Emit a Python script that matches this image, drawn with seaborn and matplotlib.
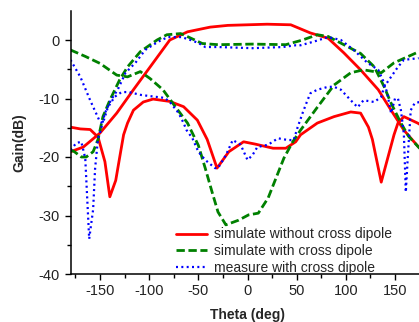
import numpy as np
import pandas as pd
import seaborn as sns
import matplotlib
matplotlib.use('Agg')
import matplotlib.pyplot as plt

# values (theta in deg, gain in dB)
red_hi_theta = [-180, -167, -150, -133, -116, -99, -79, -61, -38, -20, 0, 20, 44, 64, 82, 98, 115, 133, 146, 159, 174, 180]
red_hi_gain = [-19.1, -18.3, -15.9, -12.5, -8.5, -4.6, 0.0, 1.4, 2.2, 2.5, 2.6, 2.7, 2.6, 1.2, 0.3, -2.2, -5.1, -8.5, -12.0, -15.4, -18.3, -19.1]

red_lo_theta = [-180, -170, -160, -152, -145, -140, -134, -129, -126, -122, -116, -106, -96, -79, -65, -51, -41, -31, -19, -4, 8, 26, 39, 49, 54, 71, 88, 105, 115, 123, 127, 136, 149, 153, 159, 173, 180]
red_lo_gain = [-14.9, -15.2, -15.3, -16.6, -20.8, -26.8, -24.0, -19.1, -16.2, -14.2, -12.0, -10.6, -10.1, -10.5, -11.4, -13.7, -17.0, -21.9, -19.1, -17.4, -17.8, -18.5, -18.5, -17.4, -16.2, -14.2, -13.1, -12.3, -12.5, -14.9, -17.0, -24.3, -16.2, -14.2, -13.1, -14.2, -14.9]

green_a_theta = [-180, -165, -150, -133, -122, -109, -99, -86, -76, -61, -50, -43, -36, -30, -22, -9, 1, 11, 21, 29, 37, 46, 54, 71, 88, 105, 118, 136, 149, 173, 180]
green_a_gain = [-1.7, -2.8, -4.0, -6.0, -6.3, -5.4, -6.6, -8.5, -10.8, -14.2, -18.0, -21.9, -26.0, -29.4, -31.6, -30.8, -29.9, -29.6, -27.0, -23.6, -20.2, -17.4, -15.4, -11.5, -7.7, -5.6, -5.1, -5.6, -3.9, -2.1, -1.7]

green_b_theta = [-180, -176, -169, -164, -157, -152, -147, -140, -130, -122, -109, -92, -82, -68, -60, -46, -30, 5, 39, 56, 71, 82, 98, 115, 129, 139, 146, 156, 164, 175, 180]
green_b_gain = [-18.8, -19.1, -20.0, -20.0, -19.1, -17.0, -13.1, -10.3, -6.8, -4.6, -2.0, 0.0, 0.9, 1.1, 0.5, -0.6, -0.8, -0.7, -0.8, 0.0, 0.9, 0.6, -0.8, -2.3, -4.6, -8.0, -10.8, -14.2, -16.5, -18.5, -18.8]

blue_a_theta = [-180, -170, -160, -150, -147, -142, -135, -128, -121, -108, -94, -84, -78, -70, -65, -62, -56, -50, -43, -33, -30, -22, -15, -7, 0, 5, 10, 21, 31, 41, 47, 51, 56, 61, 64, 71, 82, 88, 95, 105, 112, 118, 129, 136, 139, 146, 153, 159, 174]
blue_a_gain = [-3.4, -6.3, -10.3, -14.0, -14.2, -11.5, -9.7, -8.9, -8.9, -9.4, -9.7, -9.9, -10.8, -12.5, -14.2, -15.4, -16.8, -19.1, -20.5, -21.9, -21.9, -19.7, -17.1, -17.9, -20.5, -19.7, -18.3, -17.9, -16.8, -17.1, -17.1, -14.9, -12.5, -10.3, -9.1, -8.5, -8.0, -8.0, -8.5, -10.3, -11.5, -10.3, -10.6, -9.7, -8.0, -6.3, -4.6, -3.4, -3.1]

blue_b_theta = [-180, -174, -169, -165, -161, -157, -155, -152, -150, -145, -139, -132, -124, -114, -104, -91, -81, -67, -58, -50, -43, -30, 5, 36, 49, 54, 67, 82, 95, 108, 122, 133, 138, 142, 146, 150, 153, 156, 159, 161, 163, 166, 170, 175]
blue_b_gain = [-18.8, -17.6, -17.4, -20.2, -34.0, -29.0, -22.0, -16.8, -15.9, -12.5, -10.3, -8.5, -5.6, -3.9, -1.7, -0.3, 0.5, 0.5, 0.0, -0.5, -1.2, -1.2, -1.4, -1.2, -0.9, -0.9, -0.3, 0.5, 0.0, -1.7, -3.9, -5.1, -7.0, -9.0, -12.5, -10.0, -10.0, -12.0, -16.0, -26.0, -20.0, -12.0, -10.8, -10.6]

labels = ['simulate without cross dipole', 'simulate with cross dipole', 'measure with cross dipole']

sns.set_style('ticks')
plt.rcParams['font.family'] = ['Liberation Sans', 'DejaVu Sans']
plt.rcParams['axes.unicode_minus'] = False

fig = plt.figure(figsize=(4.19, 3.22), dpi=100)
ax = fig.add_axes([70.5 / 419, 1 - 274 / 322, (424.5 - 70.5) / 419, (274 - 10.75) / 322])

red = '#ff0000'
green = '#008000'
blue = '#0000ff'

def draw(theta, gain, color, ls, lw, label=None):
    df = pd.DataFrame({'theta': theta, 'gain': gain})
    sns.lineplot(data=df, x='theta', y='gain', ax=ax, color=color, linewidth=lw,
                 linestyle=ls, sort=False, label=label, legend=False)

draw(red_hi_theta, red_hi_gain, red, '-', 2.0, labels[0])
draw(red_lo_theta, red_lo_gain, red, '-', 2.0)
draw(green_a_theta, green_a_gain, green, (0, (3, 1.3)), 2.0, labels[1])
draw(green_b_theta, green_b_gain, green, (0, (3, 1.3)), 2.0)
draw(blue_a_theta, blue_a_gain, blue, (0, (0.9, 1.5)), 1.6, labels[2])
draw(blue_b_theta, blue_b_gain, blue, (0, (0.9, 1.5)), 1.6)

ax.set_xlim(-180, 180)
ax.set_ylim(-40, 5)
ax.set_xticks([-150, -100, -50, 0, 50, 100, 150])
ax.set_xticks(np.arange(-175, 180, 50), minor=True)
ax.set_yticks([-40, -30, -20, -10, 0])
ax.set_yticks([-35, -25, -15, -5], minor=True)
ax.tick_params(which='major', length=4, width=1, labelsize=10.5, color='black', labelcolor='#222222')
ax.tick_params(which='minor', length=3, width=1, color='black')
ax.spines['right'].set_visible(False)
ax.spines['top'].set_visible(False)
for s in ['left', 'bottom']:
    ax.spines[s].set_linewidth(1.1)
    ax.spines[s].set_color('black')

ax.set_xlabel('Theta (deg)', fontsize=10, fontweight='bold', labelpad=7)
ax.set_ylabel('Gain(dB)', fontsize=10, fontweight='bold', labelpad=9)

h, l = ax.get_legend_handles_labels()
fig.legend(h, l, loc='lower left', bbox_to_anchor=(176 / 419, (322 - 275) / 322),
           bbox_transform=fig.transFigure, frameon=False, fontsize=10,
           handlelength=2.2, handletextpad=0.5, labelspacing=0.2, borderpad=0,
           borderaxespad=0)

fig.savefig('out.png', dpi=100)
